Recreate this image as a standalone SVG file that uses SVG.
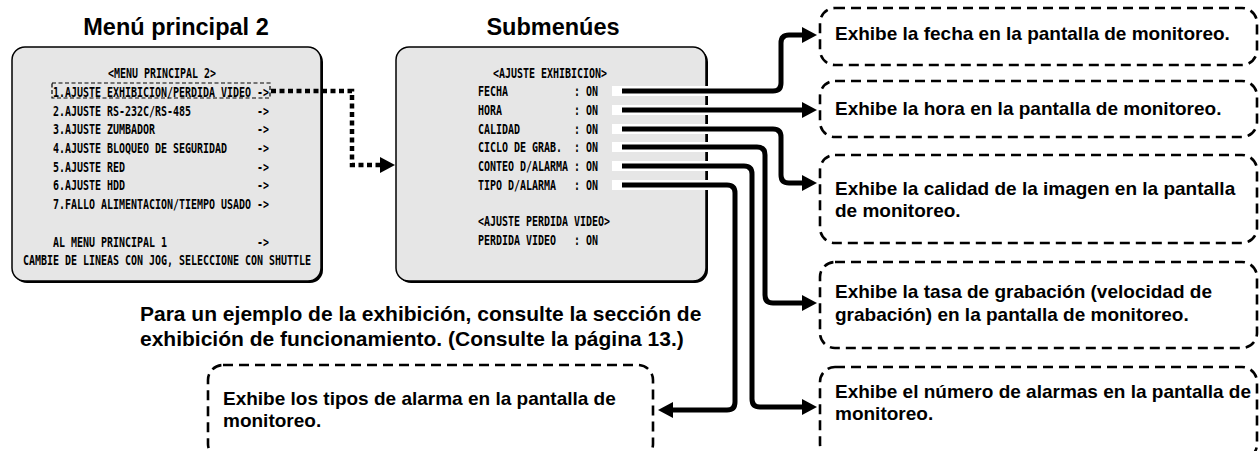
<svg xmlns="http://www.w3.org/2000/svg" width="1260" height="451" viewBox="0 0 1260 451">
<style>
.mono{font-family:"DejaVu Sans Mono","Liberation Mono",monospace;font-weight:bold;font-size:14.5px;fill:#000}
.title{font-family:"Liberation Sans",Arial,sans-serif;font-weight:bold;font-size:23.5px;text-anchor:middle;fill:#000}
.para{font-family:"Liberation Sans",Arial,sans-serif;font-weight:bold;font-size:21px;fill:#000}
.btxt{font-family:"Liberation Sans",Arial,sans-serif;font-weight:bold;font-size:19px;fill:#000}
.panel{fill:#e6e6e6;stroke:#000;stroke-width:1.5}
.shadow{fill:#000}
.dbox{fill:#fff;stroke:#000;stroke-width:2.6;stroke-dasharray:10 6}
.conn{fill:none;stroke:#000;stroke-width:5;stroke-linejoin:round}
.halo{fill:none;stroke:#fff;stroke-width:10}
.dot{fill:none;stroke:#000;stroke-width:4.5;stroke-dasharray:5 3.5}
.sel{fill:none;stroke:#000;stroke-width:1.2;stroke-dasharray:4 2.5}
</style>
<defs>
<marker id="arr" markerUnits="userSpaceOnUse" viewBox="0 0 15 16" markerWidth="15" markerHeight="16" refX="0" refY="8" orient="auto">
<path d="M0,0 L15,8 L0,16 z" fill="#000"/>
</marker>
</defs>
<rect width="1260" height="451" fill="#fff"/>

<g id="title-main"><text class="title" x="176" y="35">Menú principal 2</text></g>
<g id="title-sub"><text class="title" x="553" y="35">Submenúes</text></g>

<g id="main-menu">
<rect class="shadow" x="14" y="49" width="309" height="234" rx="13"/>
<rect class="panel" x="12" y="47" width="309" height="234" rx="13"/>
<text class="mono" x="108" y="78" textLength="108" lengthAdjust="spacingAndGlyphs">&lt;MENU PRINCIPAL 2&gt;</text>
<rect class="sel" x="52" y="83" width="218" height="15"/>
<text class="mono" xml:space="preserve" x="53" y="97" textLength="216" lengthAdjust="spacingAndGlyphs">1.AJUSTE EXHIBICION/PERDIDA VIDEO -&gt;</text>
<text class="mono" xml:space="preserve" x="53" y="116" textLength="216" lengthAdjust="spacingAndGlyphs">2.AJUSTE RS-232C/RS-485           -&gt;</text>
<text class="mono" xml:space="preserve" x="53" y="134" textLength="216" lengthAdjust="spacingAndGlyphs">3.AJUSTE ZUMBADOR                 -&gt;</text>
<text class="mono" xml:space="preserve" x="53" y="153" textLength="216" lengthAdjust="spacingAndGlyphs">4.AJUSTE BLOQUEO DE SEGURIDAD     -&gt;</text>
<text class="mono" xml:space="preserve" x="53" y="172" textLength="216" lengthAdjust="spacingAndGlyphs">5.AJUSTE RED                      -&gt;</text>
<text class="mono" xml:space="preserve" x="53" y="190" textLength="216" lengthAdjust="spacingAndGlyphs">6.AJUSTE HDD                      -&gt;</text>
<text class="mono" xml:space="preserve" x="53" y="209" textLength="216" lengthAdjust="spacingAndGlyphs">7.FALLO ALIMENTACION/TIEMPO USADO -&gt;</text>
<text class="mono" xml:space="preserve" x="53" y="247" textLength="216" lengthAdjust="spacingAndGlyphs">AL MENU PRINCIPAL 1               -&gt;</text>
<text class="mono" x="23" y="265" textLength="288" lengthAdjust="spacingAndGlyphs">CAMBIE DE LINEAS CON JOG, SELECCIONE CON SHUTTLE</text>
</g>

<g id="submenu">
<rect class="shadow" x="398" y="49" width="310" height="234" rx="13"/>
<rect class="panel" x="396" y="47" width="310" height="234" rx="13"/>
<text class="mono" x="493" y="78" textLength="114" lengthAdjust="spacingAndGlyphs">&lt;AJUSTE EXHIBICION&gt;</text>
<text class="mono" xml:space="preserve" x="478" y="96" textLength="120" lengthAdjust="spacingAndGlyphs">FECHA           : ON</text>
<text class="mono" xml:space="preserve" x="478" y="115" textLength="120" lengthAdjust="spacingAndGlyphs">HORA            : ON</text>
<text class="mono" xml:space="preserve" x="478" y="134" textLength="120" lengthAdjust="spacingAndGlyphs">CALIDAD         : ON</text>
<text class="mono" xml:space="preserve" x="478" y="152" textLength="120" lengthAdjust="spacingAndGlyphs">CICLO DE GRAB.  : ON</text>
<text class="mono" xml:space="preserve" x="478" y="171" textLength="120" lengthAdjust="spacingAndGlyphs">CONTEO D/ALARMA : ON</text>
<text class="mono" xml:space="preserve" x="478" y="190" textLength="120" lengthAdjust="spacingAndGlyphs">TIPO D/ALARMA   : ON</text>
<text class="mono" x="478" y="226" textLength="132" lengthAdjust="spacingAndGlyphs">&lt;AJUSTE PERDIDA VIDEO&gt;</text>
<text class="mono" xml:space="preserve" x="478" y="245" textLength="120" lengthAdjust="spacingAndGlyphs">PERDIDA VIDEO   : ON</text>
</g>

<g id="note">
<text class="para" x="140" y="321">Para un ejemplo de la exhibición, consulte la sección de</text>
<text class="para" x="140" y="346">exhibición de funcionamiento. (Consulte la página 13.)</text>
</g>

<g id="connectors">
<path class="dot" d="M271,91 H352 V165 H380" marker-end="url(#arr)"/>
<path class="halo" d="M612,91 H773 Q781,91 781,83 V43 Q781,35 789,35 H802"/>
<path class="halo" d="M612,110 H802"/>
<path class="halo" d="M612,129 H773 Q781,129 781,137 V175 Q781,183 789,183 H802"/>
<path class="halo" d="M612,147 H757 Q765,147 765,155 V295 Q765,303 773,303 H802"/>
<path class="halo" d="M612,166 H744 Q752,166 752,174 V399 Q752,407 760,407 H802"/>
<path class="halo" d="M612,185 H727 Q735,185 735,193 V402 Q735,410 727,410 H673"/>
<path class="conn" d="M622,91 H773 Q781,91 781,83 V43 Q781,35 789,35 H802" marker-end="url(#arr)"/>
<path class="conn" d="M622,110 H802" marker-end="url(#arr)"/>
<path class="conn" d="M622,129 H773 Q781,129 781,137 V175 Q781,183 789,183 H802" marker-end="url(#arr)"/>
<path class="conn" d="M622,147 H757 Q765,147 765,155 V295 Q765,303 773,303 H802" marker-end="url(#arr)"/>
<path class="conn" d="M622,166 H744 Q752,166 752,174 V399 Q752,407 760,407 H802" marker-end="url(#arr)"/>
<path class="conn" d="M622,185 H727 Q735,185 735,193 V402 Q735,410 727,410 H673" marker-end="url(#arr)"/>
</g>

<g id="box-fecha">
<rect class="dbox" x="820" y="8" width="437" height="57" rx="15"/>
<text class="btxt" x="835" y="40">Exhibe la fecha en la pantalla de monitoreo.</text>
</g>
<g id="box-hora">
<rect class="dbox" x="820" y="81" width="437" height="56" rx="15"/>
<text class="btxt" x="835" y="115">Exhibe la hora en la pantalla de monitoreo.</text>
</g>
<g id="box-calidad">
<rect class="dbox" x="820" y="155" width="437" height="88" rx="15"/>
<text class="btxt" x="835" y="195">Exhibe la calidad de la imagen en la pantalla</text>
<text class="btxt" x="835" y="217">de monitoreo.</text>
</g>
<g id="box-ciclo">
<rect class="dbox" x="820" y="262" width="437" height="86" rx="15"/>
<text class="btxt" x="835" y="298">Exhibe la tasa de grabación (velocidad de</text>
<text class="btxt" x="835" y="321">grabación) en la pantalla de monitoreo.</text>
</g>
<g id="box-conteo">
<rect class="dbox" x="820" y="367" width="437" height="92" rx="15"/>
<text class="btxt" x="835" y="398">Exhibe el número de alarmas en la pantalla de</text>
<text class="btxt" x="835" y="420">monitoreo.</text>
</g>
<g id="box-tipo">
<rect class="dbox" x="208" y="365" width="445" height="94" rx="15"/>
<text class="btxt" x="223" y="405">Exhibe los tipos de alarma en la pantalla de</text>
<text class="btxt" x="223" y="427">monitoreo.</text>
</g>
</svg>
